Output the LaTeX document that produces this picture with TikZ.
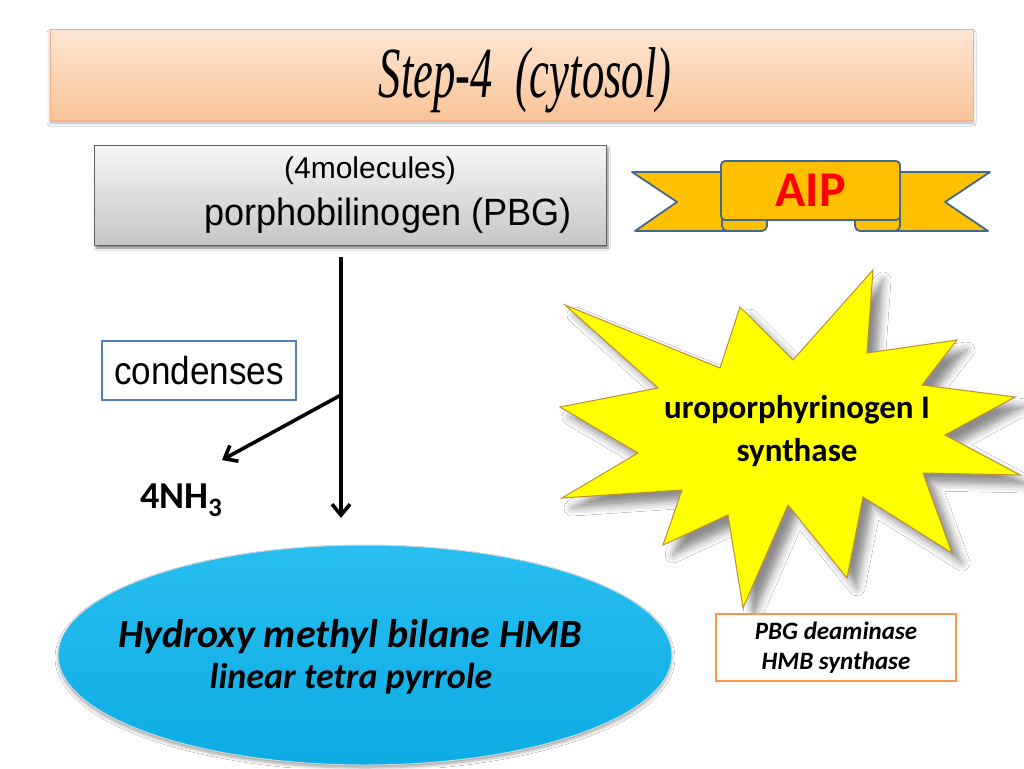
\documentclass[tikz,border=0pt]{standalone}
\usepackage{fontspec}
\usepackage{graphicx}
\usetikzlibrary{arrows.meta,shapes.geometric,shadows.blur}

\newfontfamily\arialf{Liberation Sans}
\newfontfamily\calibf{Carlito}
\newfontfamily\timesf{Liberation Serif}

\definecolor{piersicaSus}{RGB}{253,230,211}
\definecolor{piersicaJos}{RGB}{249,196,152}
\definecolor{piersicaMargine}{RGB}{244,177,131}
\definecolor{griSus}{RGB}{246,246,246}
\definecolor{griJos}{RGB}{198,198,198}
\definecolor{griMargine}{RGB}{95,95,95}
\definecolor{auriu}{RGB}{255,192,0}
\definecolor{albastruPanglica}{RGB}{68,104,140}
\definecolor{galben}{RGB}{255,255,0}
\definecolor{maroStea}{RGB}{190,140,50}
\definecolor{cianSus}{RGB}{40,190,240}
\definecolor{cianJos}{RGB}{12,172,228}
\definecolor{albGri}{RGB}{205,215,222}
\definecolor{albastruChenar}{RGB}{79,129,189}
\definecolor{portocaliu}{RGB}{247,150,70}

\begin{document}
\begin{tikzpicture}[x=1pt,y=-1pt,
    bara/.style={draw=piersicaMargine,line width=1pt,top color=piersicaSus,bottom color=piersicaJos,
      blur shadow={shadow xshift=0pt,shadow yshift=-3pt,shadow blur radius=3pt,shadow opacity=30},
      minimum width=923pt,minimum height=90pt},
    cutie/.style={draw=griMargine,line width=1pt,top color=griSus,bottom color=griJos,
      blur shadow={shadow xshift=2pt,shadow yshift=-3pt,shadow blur radius=2pt,shadow opacity=50},
      minimum width=512pt,minimum height=100pt},
    chenar/.style={draw=#1,line width=1.5pt,fill=white,inner sep=0pt},
    panglica/.style={draw=albastruPanglica,line width=1.8pt,fill=auriu,line join=round},
    stea/.style={draw=maroStea,line width=1pt,fill=galben,line join=miter,
      blur shadow={shadow xshift=10pt,shadow yshift=-10pt,shadow blur radius=8pt,shadow opacity=45}},
    elipsa/.style={ellipse,draw=albGri,line width=1pt,top color=cianSus,bottom color=cianJos,
      blur shadow={shadow xshift=0pt,shadow yshift=-3pt,shadow blur radius=3pt,shadow opacity=35},
      minimum width=614pt,minimum height=220pt,inner sep=0pt},
    sageata/.style={line width=3.6pt,-{Straight Barb[length=11pt,width=18pt]}}]
  \useasboundingbox (0,0) rectangle (1024,768);
  \fill[white] (0,0) rectangle (1024,768);

  % titlu
  \node[bara] (titlu) at (511.5,75) {};
  \node[anchor=base,font=\timesf\itshape\fontsize{72}{80}\selectfont] (titlutext) at (525,97)
    {\scalebox{0.62}[1]{Step-4\ \ (cytosol)}};

  % cutia PBG
  \node[cutie] (pbg) at (350,195) {};
  \node[anchor=base,font=\arialf\fontsize{30}{36}\selectfont] (molecule) at (370,178) {(4molecules)};
  \node[anchor=base,font=\arialf\fontsize{38}{44}\selectfont] (pbgtext) at (388,225)
    {\scalebox{0.95}[1]{porphobilinogen (PBG)}};

  % panglica AIP
  \draw[panglica] (632,172) -- (745,172) -- (745,231) -- (635,231) -- (677,202) -- cycle;
  \draw[panglica] (990,172) -- (878,172) -- (878,231) -- (988,231) -- (945,202) -- cycle;
  \draw[panglica,rounded corners=5pt] (722,208) rectangle (767,231);
  \draw[panglica,rounded corners=5pt] (855,208) rectangle (900,231);
  \node[panglica,rounded corners=4pt,minimum width=179pt,minimum height=59pt,
    text=red,font=\calibf\bfseries\fontsize{50}{56}\selectfont] (aip) at (810.5,190.5) {AIP};

  % stea
  \draw[stea] (565,305) -- (720,368) -- (740,307) -- (793,360) -- (873,270) -- (867,353)
    -- (957,340) -- (922,385) -- (1015,397) -- (945,435) -- (1020,475) -- (923,473)
    -- (952,553) -- (863,497) -- (847,578) -- (788,505) -- (743,608) -- (728,515)
    -- (663,545) -- (682,490) -- (562,498) -- (638,453) -- (560,407) -- (658,388) -- cycle;
  \node[align=center,font=\calibf\bfseries\fontsize{33}{43}\selectfont] (sintaza) at (797,431)
    {uroporphyrinogen I\\synthase};

  % elipsa HMB
  \node[elipsa] (hmb) at (365,655) {};
  \node[anchor=base,font=\calibf\bfseries\itshape\fontsize{40}{46}\selectfont] (hmbnume) at (350,647)
    {Hydroxy methyl bilane HMB};
  \node[anchor=base,font=\calibf\bfseries\itshape\fontsize{36}{40}\selectfont] (hmbtip) at (351,688)
    {linear tetra pyrrole};

  % săgeți
  \coordinate (sus) at (341,257);
  \coordinate (ramura) at (341,395);
  \coordinate (jos) at (341,518);
  \coordinate (spreNH) at (222,460);
  \draw[sageata] (sus) -- (jos);
  \draw[sageata] (ramura) -- (spreNH);

  % etichete
  \node[chenar=albastruChenar,minimum width=194pt,minimum height=59pt,
    font=\arialf\fontsize{39}{44}\selectfont] (condens) at (199,370.5) {\scalebox{0.9}[1]{condenses}};
  \node[anchor=base west,inner sep=0pt,font=\calibf\bfseries\fontsize{38}{44}\selectfont] (amoniac)
    at (140,508) {4NH\textsubscript{3}};
  \node[chenar=portocaliu,minimum width=240pt,minimum height=67pt,align=center,
    font=\calibf\bfseries\itshape\fontsize{25}{30}\selectfont] (enzima) at (836,647.5) {PBG deaminase\\HMB synthase};
\end{tikzpicture}
\end{document}
